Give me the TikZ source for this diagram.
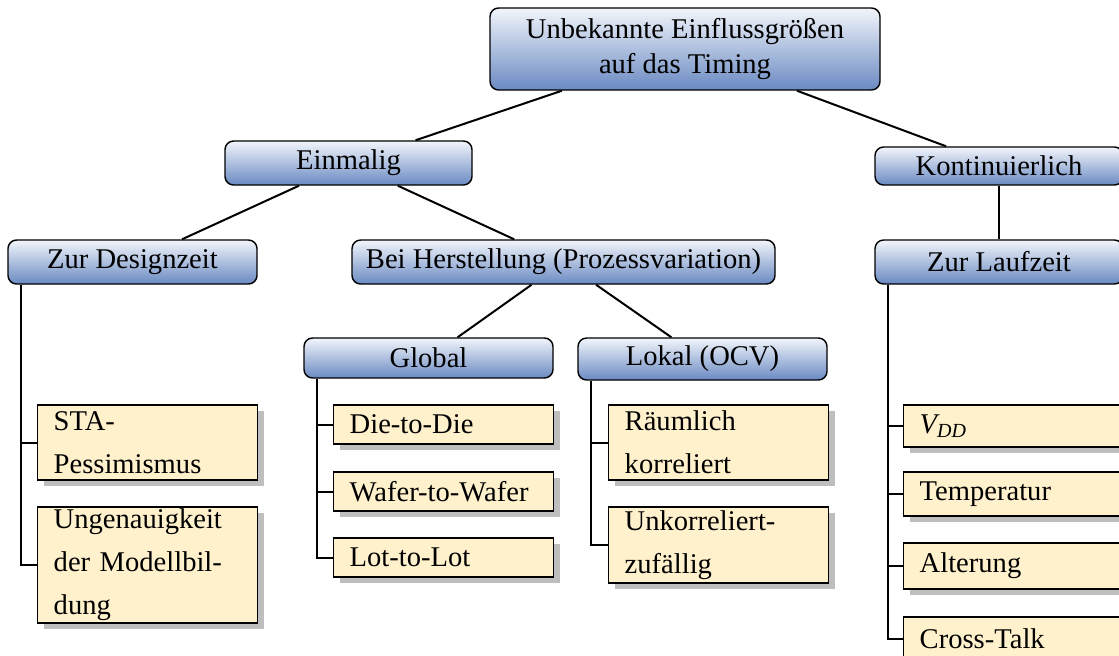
\documentclass[tikz,border=0pt]{standalone}
\usepackage{fontspec}
\setmainfont{Liberation Serif}
\usetikzlibrary{shadows}
\definecolor{boxtop}{RGB}{242,245,251}
\definecolor{boxbot}{RGB}{106,138,194}
\definecolor{leaffill}{RGB}{255,241,204}
\definecolor{shadowgray}{RGB}{190,190,190}
\begin{document}
\begin{tikzpicture}[x=0.35pt,y=-0.35pt,
  cat/.style={draw, line width=0.5pt, rounded corners=3pt,
    top color=boxtop, bottom color=boxbot, inner sep=0pt,
    align=center, minimum width=#1},
  leaf/.style={draw, line width=0.5pt, fill=leaffill,
    drop shadow={shadow xshift=2.1pt, shadow yshift=-2.1pt,
      fill=shadowgray, opacity=1},
    text width=65.8pt, inner xsep=5.6pt, inner ysep=0.5pt,
    align=left, anchor=west,
    font=\fontsize{10pt}{15pt}\selectfont},
  conn/.style={line width=0.7pt}]
\useasboundingbox (0,0) rectangle (1119,655);

% category boxes
\node[cat=136.5pt, minimum height=28.7pt] (top) at (685,49)
  {Unbekannte Einflussgrößen\\auf das Timing};
\node[cat=86.45pt, minimum height=15.4pt] (einm) at (348.5,163) {Einmalig};
\node[cat=86.8pt, minimum height=13.3pt] (kont) at (999,166) {Kontinuierlich};
\node[cat=87.15pt, minimum height=15.4pt] (design) at (132.5,262) {Zur Designzeit};
\node[cat=148.05pt, minimum height=15.4pt] (herst) at (563.5,262)
  {Bei Herstellung (Prozessvariation)};
\node[cat=86.8pt, minimum height=15.4pt] (lauf) at (999,262) {Zur Laufzeit};
\node[cat=87.15pt, minimum height=14pt] (global) at (428.5,358) {Global};
\node[cat=87.15pt, minimum height=14.7pt] (lokal) at (702.5,359) {Lokal (OCV)};

% tree edges
\draw[conn] (top) -- (einm);
\draw[conn] (top) -- (kont);
\draw[conn] (einm) -- (design);
\draw[conn] (einm) -- (herst);
\draw[conn] (kont) -- (lauf);
\draw[conn] (herst) -- (global);
\draw[conn] (herst) -- (lokal);

% leaves
\node[leaf, minimum height=26.25pt] (sta) at (37,442.5) {STA-\\Pessimismus};
\node[leaf, minimum height=40.6pt] (ungen) at (37,565)
  {Ungenauigkeit\\der Modellbil-\\dung};
\node[leaf, minimum height=13.65pt] (d2d) at (333,424.5) {Die-to-Die};
\node[leaf, minimum height=13.65pt] (w2w) at (333,491.5) {Wafer-to-Wafer};
\node[leaf, minimum height=13.65pt] (l2l) at (333,557.5) {Lot-to-Lot};
\node[leaf, minimum height=26.25pt] (raeum) at (608,442.5) {Räumlich\\korreliert};
\node[leaf, minimum height=26.6pt] (unk) at (608,545) {Unkorreliert-\\zufällig};
\node[leaf, minimum height=14.7pt] (vdd) at (903,426) {\itshape V\textsubscript{DD}};
\node[leaf, minimum height=15.4pt] (temp) at (903,494) {Temperatur};
\node[leaf, minimum height=16.1pt] (alter) at (903,566) {Alterung};
\node[leaf, minimum height=15pt] (cross) at (903,638.5) {Cross-Talk};

% leaf connectors
\foreach \p/\c in {design/sta, design/ungen,
                   global/d2d, global/w2w, global/l2l,
                   lokal/raeum, lokal/unk,
                   lauf/vdd, lauf/temp, lauf/alter, lauf/cross}
  \draw[conn] ([xshift=4.9pt]\p.south west) |- (\c.west);
\end{tikzpicture}
\end{document}
